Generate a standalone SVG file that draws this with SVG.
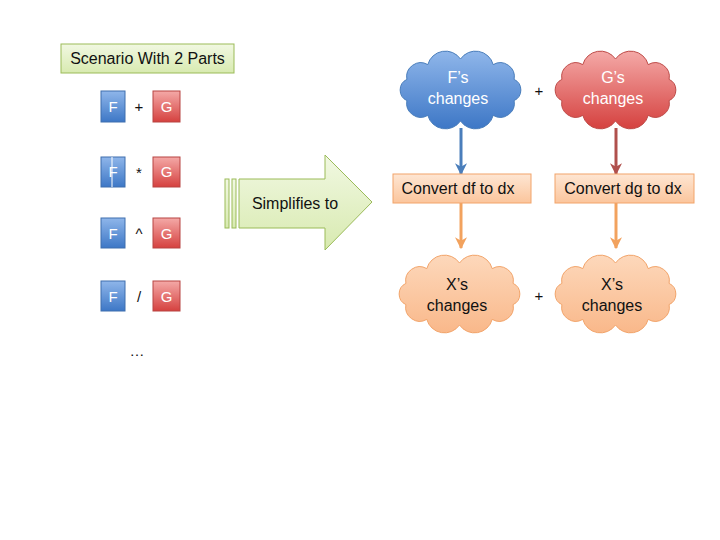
<svg xmlns="http://www.w3.org/2000/svg" width="720" height="540" viewBox="0 0 720 540">
<style>
text{font-family:"Liberation Sans",Arial,sans-serif;font-size:16px;text-anchor:middle}
.sm{font-size:15px}
.w{fill:#ffffff}
.k{fill:#111111}
.fbox{fill:url(#gBlue);stroke:#3f6fae;stroke-width:1}
.gbox{fill:url(#gRed);stroke:#b84542;stroke-width:1}
.conv{fill:url(#gOrange);stroke:#f2a46a;stroke-width:1}
.ln{fill:none;stroke-width:3}
</style>
<defs>
<linearGradient id="gBlue" x1="0" y1="0" x2="0" y2="1"><stop offset="0" stop-color="#8fb6ea"/><stop offset="1" stop-color="#3d77c6"/></linearGradient>
<linearGradient id="gRed" x1="0" y1="0" x2="0" y2="1"><stop offset="0" stop-color="#f4a9a7"/><stop offset="1" stop-color="#d5413f"/></linearGradient>
<linearGradient id="gOrange" x1="0" y1="0" x2="0" y2="1"><stop offset="0" stop-color="#fee6d3"/><stop offset="1" stop-color="#fbc59c"/></linearGradient>
<linearGradient id="gPeach" x1="0" y1="0" x2="0" y2="1"><stop offset="0" stop-color="#fdd8bb"/><stop offset="1" stop-color="#f9b88a"/></linearGradient>
<linearGradient id="gGreen" x1="0" y1="0" x2="0" y2="1"><stop offset="0" stop-color="#f1f8e2"/><stop offset="1" stop-color="#d8eab0"/></linearGradient>
<path id="cloud" d="M6.9,48.6 A11.7,11.7 0 0 1 6.9,27.4 A14.1,14.1 0 0 1 27.8,12.6 A18.3,18.3 0 0 1 60.5,7 A18.3,18.3 0 0 1 93.2,12.6 A14.1,14.1 0 0 1 114.1,27.4 A11.7,11.7 0 0 1 114.1,48.6 A14.1,14.1 0 0 1 93.2,63.4 A18.3,18.3 0 0 1 60.5,69 A18.3,18.3 0 0 1 27.8,63.4 A14.1,14.1 0 0 1 6.9,48.6 Z"/>
<marker id="mBlue" viewBox="0 0 10 10" refX="9" refY="5" markerWidth="4" markerHeight="4" orient="auto" markerUnits="strokeWidth"><path d="M0,0 L10,5 L0,10 L3,5 Z" fill="#4a7ebb"/></marker>
<marker id="mRed" viewBox="0 0 10 10" refX="9" refY="5" markerWidth="4" markerHeight="4" orient="auto" markerUnits="strokeWidth"><path d="M0,0 L10,5 L0,10 L3,5 Z" fill="#b0504d"/></marker>
<marker id="mOr" viewBox="0 0 10 10" refX="9" refY="5" markerWidth="4" markerHeight="4" orient="auto" markerUnits="strokeWidth"><path d="M0,0 L10,5 L0,10 L3,5 Z" fill="#f2a25e"/></marker>
</defs>
<rect width="720" height="540" fill="#ffffff"/>

<g id="scenario">
<rect x="61" y="44" width="173" height="29" fill="url(#gGreen)" stroke="#9bbb59"/>
<text class="k" x="147.5" y="64">Scenario With 2 Parts</text>
</g>

<g id="row1">
<rect class="fbox" x="101" y="91" width="24" height="31"/>
<text class="w sm" x="113" y="112">F</text>
<text class="k sm" x="139" y="112">+</text>
<rect class="gbox" x="153" y="91" width="27" height="31"/>
<text class="w sm" x="166.5" y="112">G</text>
</g>
<g id="row2">
<rect class="fbox" x="101" y="157" width="24" height="30"/>
<text class="w sm" x="113" y="177">F</text>
<line x1="112" y1="157" x2="112" y2="187" stroke="#ffffff" stroke-width="1"/>
<text class="k sm" x="139" y="178">*</text>
<rect class="gbox" x="153" y="157" width="27" height="30"/>
<text class="w sm" x="166.5" y="177">G</text>
</g>
<g id="row3">
<rect class="fbox" x="101" y="218" width="24" height="30"/>
<text class="w sm" x="113" y="239">F</text>
<text class="k sm" x="139" y="239">^</text>
<rect class="gbox" x="153" y="218" width="27" height="30"/>
<text class="w sm" x="166.5" y="239">G</text>
</g>
<g id="row4">
<rect class="fbox" x="101" y="281" width="24" height="30"/>
<text class="w sm" x="113" y="302">F</text>
<text class="k sm" x="139" y="302">/</text>
<rect class="gbox" x="153" y="281" width="27" height="30"/>
<text class="w sm" x="166.5" y="302">G</text>
</g>
<g id="more"><text class="k sm" x="137" y="356">…</text></g>

<g id="simplifies">
<rect x="225" y="179" width="4" height="49" fill="url(#gGreen)" stroke="#9bbb59"/>
<rect x="232" y="179" width="4" height="49" fill="url(#gGreen)" stroke="#9bbb59"/>
<path d="M239,179 L325,179 L325,155 L372,202 L325,250 L325,228 L239,228 Z" fill="url(#gGreen)" stroke="#9bbb59"/>
<text class="k" x="295" y="209">Simplifies to</text>
</g>

<g id="connectors">
<line class="ln" x1="461" y1="128" x2="461" y2="174" stroke="#4a7ebb" marker-end="url(#mBlue)"/>
<line class="ln" x1="616" y1="128" x2="616" y2="174" stroke="#b0504d" marker-end="url(#mRed)"/>
<line class="ln" x1="461" y1="203" x2="461" y2="248" stroke="#f2a25e" marker-end="url(#mOr)"/>
<line class="ln" x1="616" y1="203" x2="616" y2="248" stroke="#f2a25e" marker-end="url(#mOr)"/>
</g>

<g id="fcloud">
<use href="#cloud" transform="translate(400,52)" fill="url(#gBlue)" stroke="#4a7ebb"/>
<text class="w" x="458" y="83">F’s</text>
<text class="w" x="458" y="104">changes</text>
</g>
<g id="plus1"><text class="k sm" x="539" y="96">+</text></g>
<g id="gcloud">
<use href="#cloud" transform="translate(555,52)" fill="url(#gRed)" stroke="#be4b48"/>
<text class="w" x="613" y="83">G’s</text>
<text class="w" x="613" y="104">changes</text>
</g>

<g id="convf">
<rect class="conv" x="393" y="174" width="138" height="29"/>
<text class="k" x="458" y="194">Convert df to dx</text>
</g>
<g id="convg">
<rect class="conv" x="555" y="174" width="139" height="29"/>
<text class="k" x="623" y="194">Convert dg to dx</text>
</g>

<g id="xcloud1">
<use href="#cloud" transform="translate(399,256)" fill="url(#gPeach)" stroke="#f2a46a"/>
<text class="k" x="457" y="290">X’s</text>
<text class="k" x="457" y="311">changes</text>
</g>
<g id="plus2"><text class="k sm" x="539" y="301">+</text></g>
<g id="xcloud2">
<use href="#cloud" transform="translate(555,256)" fill="url(#gPeach)" stroke="#f2a46a"/>
<text class="k" x="612" y="290">X’s</text>
<text class="k" x="612" y="311">changes</text>
</g>
</svg>
